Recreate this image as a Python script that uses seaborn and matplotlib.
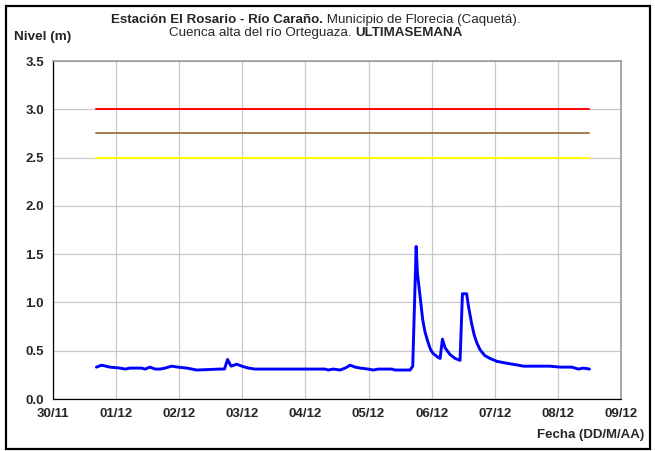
import matplotlib
matplotlib.use("Agg")
import matplotlib.pyplot as plt
import seaborn as sns
import pandas as pd
from matplotlib.patches import Rectangle

# Water level readings: hours since 30/11 00:00 and level in metres
hours = [16.5, 18.5, 21.7, 25.5, 27.4, 29.3, 33.7, 35.0, 36.9, 38.8, 40.7, 42.6,
         45.1, 47.5, 50.9, 54.7, 63.5, 65.2, 66.4, 67.7, 69.9, 71.8, 74.3, 76.8,
         86.3, 93.9, 103.5, 104.7, 106.5, 109.2, 111.1, 113.0, 114.9, 116.8,
         119.9, 121.8, 123.7, 128.8, 130.1, 135.8, 136.8, 138.1, 138.6, 139.6,
         140.6, 141.5, 142.7, 143.6, 144.6, 146.5, 147.2, 148.1, 149.1, 151.0,
         152.9, 154.8, 155.7, 157.3, 158.0, 159.2, 160.2, 161.2, 162.4, 164.2,
         166.2, 168.8, 172.6, 177.0, 178.9, 189.0, 192.9, 195.4, 197.3, 199.8,
         201.7, 204.0]
level = [0.33, 0.35, 0.33, 0.32, 0.31, 0.32, 0.32, 0.31, 0.33, 0.31, 0.31, 0.32,
         0.34, 0.33, 0.32, 0.30, 0.31, 0.31, 0.41, 0.34, 0.36, 0.34, 0.32, 0.31,
         0.31, 0.31, 0.31, 0.30, 0.31, 0.30, 0.32, 0.35, 0.33, 0.32,
         0.31, 0.30, 0.31, 0.31, 0.30, 0.30, 0.34, 1.58, 1.30, 1.06,
         0.82, 0.69, 0.58, 0.51, 0.47, 0.43, 0.42, 0.62, 0.53, 0.46,
         0.42, 0.40, 1.09, 1.09, 0.96, 0.78, 0.66, 0.58, 0.51, 0.45,
         0.42, 0.39, 0.37, 0.35, 0.34, 0.34, 0.33, 0.33, 0.33, 0.31,
         0.32, 0.31]

day_labels = ["30/11", "01/12", "02/12", "03/12", "04/12",
              "05/12", "06/12", "07/12", "08/12", "09/12"]
y_ticks = [0.0, 0.5, 1.0, 1.5, 2.0, 2.5, 3.0, 3.5]

# Alert thresholds (m) and the window they are drawn over (hours)
threshold_levels = [3.0, 2.75, 2.5]
threshold_colors = ["#ff0000", "#a57a50", "#ffff00"]
threshold_span = [16.5, 204.0]

sns.set_theme(style="white")
plt.rcParams["font.family"] = ["Liberation Sans", "DejaVu Sans"]

W, H = 655, 451
fig = plt.figure(figsize=(W / 100, H / 100), dpi=100)
fig.patch.set_facecolor("white")
ax = fig.add_axes([53 / W, 1 - 399 / H, (621 - 53) / W, (399 - 61) / H])

df = pd.DataFrame({"hora": hours, "nivel": level})

for lv, col in zip(threshold_levels, threshold_colors):
    sns.lineplot(x=threshold_span, y=[lv, lv], color=col, lw=1.4, ax=ax,
                 zorder=3)
sns.lineplot(data=df, x="hora", y="nivel", color="#0000ff", lw=2.1, ax=ax,
             zorder=4)

ax.set_xlim(0, 24 * (len(day_labels) - 1))
ax.set_ylim(0, 3.5)
ax.set_xticks([24 * i for i in range(len(day_labels))])
ax.set_xticklabels(day_labels)
ax.set_yticks(y_ticks)
ax.set_yticklabels([f"{v:.1f}" for v in y_ticks])
ax.set_xlabel("")
ax.set_ylabel("")

ax.grid(True, color="#c8c8c8", lw=0.9)
ax.set_axisbelow(True)
for side in ("left", "bottom"):
    ax.spines[side].set_color("black")
    ax.spines[side].set_linewidth(0.9)
for side in ("top", "right"):
    ax.spines[side].set_color("#a0a0a0")
    ax.spines[side].set_linewidth(1.3)

ax.tick_params(axis="both", direction="out", length=3.5, width=0.9,
               color="black", labelsize=9.5, pad=3)
for lab in ax.get_xticklabels() + ax.get_yticklabels():
    lab.set_fontweight("bold")

# Axis titles
fig.text(14 / W, 1 - 37 / H, "Nivel (m)", weight="bold", size=9.7,
         ha="left", va="center")
fig.text(644 / W, 1 - 435 / H, "Fecha (DD/M/AA)", weight="bold", size=9.5,
         ha="right", va="center")


def mixed_line(y, parts, xc, size):
    """Draw a centred line of text built from (string, weight) pieces."""
    renderer = fig.canvas.get_renderer()
    texts = [fig.text(0, y, s, weight=w, size=size, va="center", ha="left")
             for s, w in parts]
    widths = [t.get_window_extent(renderer).width for t in texts]
    x = xc * fig.bbox.width - sum(widths) / 2
    for t, w in zip(texts, widths):
        t.set_x(x / fig.bbox.width)
        x += w


mixed_line(1 - 20 / H, [("Estación El Rosario - Río Caraño.", "bold"),
                        (" Municipio de Florecia (Caquetá).", "normal")],
           316 / W, 9.6)
mixed_line(1 - 33 / H, [("Cuenca alta del río Orteguaza. ", "normal"),
                        ("ULTIMASEMANA", "bold")],
           316 / W, 9.6)

# Outer frame around the whole chart
fig.patches.append(Rectangle((6 / W, 1 - 449 / H), (650 - 6) / W, (449 - 6) / H,
                             transform=fig.transFigure, fill=False,
                             ec="black", lw=1.6))

fig.savefig("out.png", dpi=100)
